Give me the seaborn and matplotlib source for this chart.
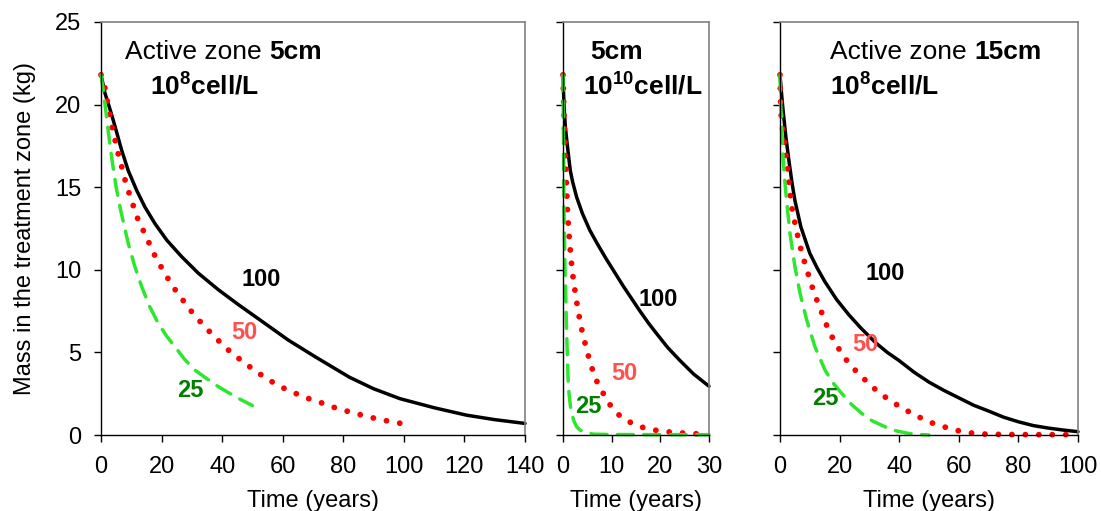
import matplotlib
matplotlib.use("Agg")
import matplotlib.pyplot as plt
import seaborn as sns

# ---------------- data ----------------
# Panel 1: Active zone 5cm, 10^8 cell/L
p1_t_100 = [0, 1.3, 3.0, 4.6, 6.8, 9.0, 11.8, 14.5, 17.8, 21.7, 26.6, 32.1, 38.7, 45.3, 53, 61.8, 70.6,
            82, 90, 98.7, 110, 120.7, 130, 140]
p1_m_100 = [21.8, 20.7, 19.7, 18.7, 17.25, 16.0, 14.8, 13.8, 12.8, 11.8, 10.8, 9.8, 8.8, 7.9, 6.9, 5.75, 4.75,
            3.5, 2.8, 2.2, 1.65, 1.2, 0.93, 0.7]
p1_t_50 = [0, 1.3, 2.1, 2.9, 3.7, 4.7, 5.7, 6.9, 8.0, 9.35, 10.8, 12.3, 14.3, 16.3, 18.3, 20.9, 23.5, 26.6,
           29.9, 33.7, 37.9, 42.3, 46.8, 51.2, 55.4, 59.8, 64.2, 68.6, 73.2, 77.6, 81.9, 86.4, 90.8, 95.1, 100]
p1_m_50 = [21.8, 21.0, 20.2, 19.4, 18.6, 17.8, 17.0, 16.2, 15.4, 14.6, 13.8, 13.0, 12.25, 11.45, 10.65, 9.85,
           9.04, 8.27, 7.47, 6.66, 5.87, 5.1, 4.44, 3.85, 3.33, 2.88, 2.52, 2.2, 1.92, 1.63, 1.41, 1.19, 0.99,
           0.83, 0.67]
p1_t_25 = [0, 1, 2, 3, 4, 5, 6.5, 9, 11, 13.4, 16, 18.9, 21.6, 24.4, 27.5, 31, 35, 38.7, 44.5, 50]
p1_m_25 = [21.8, 20.5, 19.0, 17.5, 16.2, 15.0, 13.6, 11.6, 10.3, 9.0, 7.8, 6.76, 6.0, 5.35, 4.6, 3.93, 3.4,
           2.93, 2.3, 1.78]

# Panel 2: 5cm, 10^10 cell/L
p2_t_100 = [0, 0.1, 0.25, 0.5, 0.75, 1.1, 1.5, 2.0, 2.8, 4.0, 5.5, 7.0, 8.9, 12.3, 15.7, 17.5, 19.2, 21.5,
            23.9, 26.8, 30]
p2_m_100 = [21.8, 20.8, 19.7, 18.6, 17.9, 17.0, 16.0, 15.3, 14.4, 13.4, 12.4, 11.6, 10.65, 9.05, 7.55, 6.8,
            6.15, 5.3, 4.55, 3.7, 2.95]
p2_t_50 = [0, 0.1, 0.25, 0.45, 0.65, 0.85, 1.1, 1.4, 1.9, 2.7, 3.6, 4.9, 6.5, 9.3, 11.7, 14.5, 17.2, 20, 22.7,
           26, 30]
p2_m_50 = [21.8, 20.6, 19.0, 17.4, 15.6, 14.0, 12.7, 11.5, 9.9, 8.25, 6.7, 5.1, 3.5, 1.95, 1.15, 0.65, 0.38,
           0.24, 0.16, 0.09, 0.05]
p2_t_25 = [0, 0.1, 0.2, 0.4, 0.75, 1.1, 1.5, 1.8, 2.3, 2.8, 3.5, 4.2, 6.2, 10, 20, 30]
p2_m_25 = [21.8, 18.0, 13.8, 10.2, 6.2, 2.9, 1.8, 1.3, 0.8, 0.5, 0.3, 0.2, 0.05, 0.03, 0.02, 0.02]

# Panel 3: Active zone 15cm, 10^8 cell/L
p3_t_100 = [0, 0.5, 1, 2, 3, 4, 5, 7, 10, 12.5, 15, 19, 23, 27, 32, 36, 40, 45, 50, 55, 60, 65, 70, 75, 80,
            85, 90, 95, 100]
p3_m_100 = [21.8, 20.7, 19.7, 18.0, 16.6, 15.3, 14.2, 12.6, 11.0, 10.1, 9.3, 8.2, 7.3, 6.5, 5.6, 5.0, 4.5, 3.8,
            3.2, 2.7, 2.25, 1.8, 1.45, 1.08, 0.8, 0.57, 0.42, 0.3, 0.2]
p3_t_50 = [0, 0.1, 0.2, 0.34, 0.78, 1.34, 1.9, 2.46, 2.9, 3.35, 3.91, 4.8, 5.7, 6.7, 7.93, 9.28, 10.6, 12.2,
           15.6, 17.6, 20.2, 23.3, 27.4, 31.6, 36.3, 40.8, 45.3, 49.7, 54.2, 58.7, 63.1, 67.6, 75, 85, 100]
p3_m_50 = [21.8, 21.0, 20.2, 19.47, 18.66, 17.86, 17.05, 16.24, 15.44, 14.63, 13.82, 13.02, 12.25, 11.46,
           10.65, 9.85, 9.06, 8.25, 6.66, 5.89, 5.08, 4.28, 3.53, 2.82, 2.16, 1.65, 1.21, 0.81, 0.54, 0.3, 0.14,
           0.06, 0.03, 0.02, 0.02]
p3_t_25 = [0, 0.2, 0.56, 1.1, 1.6, 2.2, 3.35, 5.0, 6.7, 8.9, 11.7, 15.1, 17.8, 20.7, 24, 27.4, 31, 35.2, 39,
           43, 47, 50]
p3_m_25 = [21.8, 20.3, 18.7, 16.6, 15.4, 14.2, 12.2, 10.2, 8.6, 7.0, 5.35, 3.93, 3.15, 2.52, 1.85, 1.31, 0.85,
           0.5, 0.25, 0.1, 0.03, 0.0]

series_labels = ["100", "50", "25"]
p1_label_pos = [(53, 9.4), (47.2, 6.2), (29.4, 2.7)]
p2_label_pos = [(19.5, 8.2), (12.7, 3.7), (5.3, 1.7)]
p3_label_pos = [(35.2, 9.8), (28.5, 5.45), (15.1, 2.2)]

p1_xticks = [0, 20, 40, 60, 80, 100, 120, 140]
p2_xticks = [0, 10, 20, 30]
p3_xticks = [0, 20, 40, 60, 80, 100]
yticks = [0, 5, 10, 15, 20, 25]

# ---------------- style ----------------
sns.set_theme(style="white")
plt.rcParams['font.family'] = ['Liberation Sans', 'DejaVu Sans']
plt.rcParams['mathtext.fontset'] = 'custom'
plt.rcParams['mathtext.rm'] = 'Liberation Sans'
plt.rcParams['mathtext.bf'] = 'Liberation Sans:bold'
plt.rcParams['mathtext.it'] = 'Liberation Sans:italic'
plt.rcParams['text.color'] = '#000000'
plt.rcParams['axes.labelcolor'] = '#000000'

C_BLACK = "#000000"
C_RED = "#FF0000"
C_GREEN = "#2EE62E"
C_LAB50 = "#FF5050"
C_LAB25 = "#008000"

fig = plt.figure(figsize=(11.01, 5.11), dpi=100)
W, H = 1101, 511
def box(x0, x1, ytop=22, ybot=435):
    return [x0 / W, 1 - ybot / H, (x1 - x0) / W, (ybot - ytop) / H]

ax1 = fig.add_axes(box(101, 525))
ax2 = fig.add_axes(box(563, 709))
ax3 = fig.add_axes(box(780, 1078))

TICK_FS = 17


def draw_panel(ax, t100, m100, t50, m50, t25, m25, xmax, xticks, label_pos, ylabels):
    sns.lineplot(x=t100, y=m100, ax=ax, color=C_BLACK, linewidth=2.5, errorbar=None, sort=False)
    l = ax.lines[-1]
    l.set_clip_on(False)
    l.set_solid_joinstyle('round')
    sns.lineplot(x=t50, y=m50, ax=ax, color=C_RED, linewidth=4.2, errorbar=None, sort=False)
    l = ax.lines[-1]
    l.set_linestyle((0, (0.01, 2.3)))
    l.set_dash_capstyle('round')
    l.set_clip_on(False)
    sns.lineplot(x=t25, y=m25, ax=ax, color=C_GREEN, linewidth=2.5, errorbar=None, sort=False)
    l = ax.lines[-1]
    l.set_linestyle((0, (4.6, 3.0)))
    l.set_dash_capstyle('round')
    l.set_clip_on(False)

    for txt, (x, y), c in zip(series_labels, label_pos, [C_BLACK, C_LAB50, C_LAB25]):
        ax.text(x, y, txt, color=c, fontsize=17, fontweight='bold', ha='center', va='center')

    ax.set_xlim(0, xmax)
    ax.set_ylim(0, 25)
    ax.set_xticks(xticks)
    ax.set_yticks(yticks)
    ax.tick_params(axis='both', which='both', direction='out', length=5, width=1,
                   bottom=True, left=True, labelsize=TICK_FS, colors='#000000')
    ax.tick_params(axis='x', pad=10)
    ax.tick_params(axis='y', pad=9)
    if not ylabels:
        ax.tick_params(axis='y', labelleft=False)
    ax.set_xlabel("Time (years)", fontsize=TICK_FS, labelpad=9, color='#000000')
    for s in ['left', 'bottom']:
        ax.spines[s].set_color('#000000')
        ax.spines[s].set_linewidth(1.0)
    for s in ['top', 'right']:
        ax.spines[s].set_color('#808080')
        ax.spines[s].set_linewidth(1.2)
    ax.set_facecolor('white')


draw_panel(ax1, p1_t_100, p1_m_100, p1_t_50, p1_m_50, p1_t_25, p1_m_25, 140, p1_xticks, p1_label_pos, True)
draw_panel(ax2, p2_t_100, p2_m_100, p2_t_50, p2_m_50, p2_t_25, p2_m_25, 30, p2_xticks, p2_label_pos, False)
draw_panel(ax3, p3_t_100, p3_m_100, p3_t_50, p3_m_50, p3_t_25, p3_m_25, 100, p3_xticks, p3_label_pos, False)

ax1.set_ylabel("Mass in the treatment zone (kg)", fontsize=TICK_FS, labelpad=14, color='#000000')

FS = 19

def title_line(ax, x, y, normal, bold):
    if normal:
        t = ax.text(x, y, normal, transform=ax.transAxes, fontsize=FS, ha='left', va='center', color='#000000')
        ax.annotate(bold, xy=(1, 0), xycoords=t, ha='left', va='bottom', fontsize=FS, fontweight='bold',
                    color='#000000')
    else:
        ax.text(x, y, bold, transform=ax.transAxes, fontsize=FS, ha='left', va='center', fontweight='bold',
                color='#000000')

title_line(ax1, 0.057, 0.927, "Active zone ", "5cm")
ax1.text(0.116, 0.845, r"$\mathbf{10^{8}cell/L}$", transform=ax1.transAxes, fontsize=FS, ha='left', va='center')
title_line(ax2, 0.185, 0.927, None, "5cm")
ax2.text(0.137, 0.845, r"$\mathbf{10^{10}cell/L}$", transform=ax2.transAxes, fontsize=FS, ha='left', va='center')
title_line(ax3, 0.168, 0.927, "Active zone ", "15cm")
ax3.text(0.168, 0.845, r"$\mathbf{10^{8}cell/L}$", transform=ax3.transAxes, fontsize=FS, ha='left', va='center')

fig.savefig("out.png", dpi=100, facecolor='white')
